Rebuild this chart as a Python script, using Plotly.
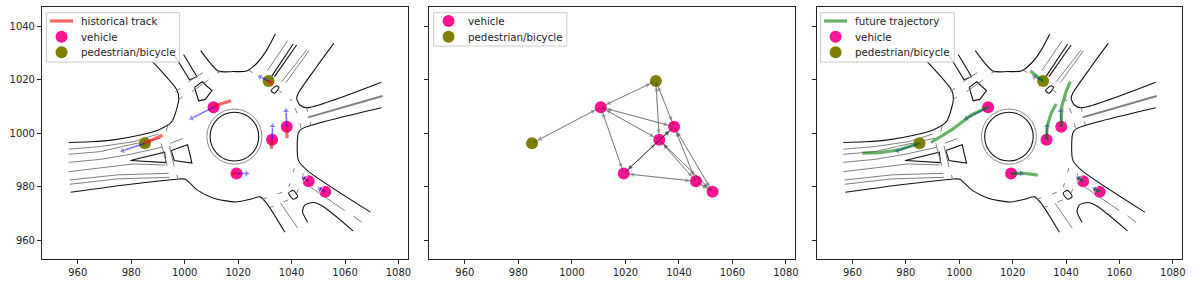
import plotly.graph_objects as go

# ---- agents -----
vehicle_x = [1010.8, 1032.7, 1038.2, 1019.4, 1046.4, 1052.6]
vehicle_y = [1009.7, 997.5, 1002.4, 984.9, 982.0, 978.1]
ped_x = [985.1, 1031.4]
ped_y = [996.2, 1019.5]

# ---- tracks: one list of x and y per agent -----
hist_x = [[1010.8, 1013.3, 1017.4], [1032.7, 1032.4], [1038.2, 1038.3], [1019.4, 1017.6],
          [1046.4, 1044.6], [1052.6, 1050.9], [985.1, 991.7], [1031.4, 1033.0]]
hist_y = [[1009.7, 1010.9, 1012.1], [997.5, 994.1], [1002.4, 998.1], [984.9, 984.9],
          [982.0, 983.2], [978.1, 979.1], [996.2, 999.2], [1019.5, 1018.5]]
vel_x = [[1010.8, 1002.6], [1032.7, 1032.9], [1038.2, 1037.9], [1019.4, 1023.2],
         [1046.4, 1044.6], [1052.6, 1050.6], [985.1, 976.8], [1031.4, 1028.2]]
vel_y = [[1009.7, 1005.5], [997.5, 1002.7], [1002.4, 1008.4], [984.9, 984.9],
         [982.0, 983.2], [978.1, 979.2], [996.2, 993.4], [1019.5, 1021.1]]
fut_x = [[1010.8, 1004.6, 997.1, 989.4], [1032.7, 1032.9, 1034.4, 1036.3],
         [1038.2, 1038.4, 1040.0, 1041.6], [1019.5, 1023.2, 1029.4],
         [1046.4, 1044.4], [1052.6, 1050.9],
         [985.1, 977.2, 970.3, 963.7], [1031.4, 1026.6]]
fut_y = [[1009.7, 1006.8, 1001.2, 996.5], [997.5, 1002.4, 1007.4, 1010.9],
         [1002.4, 1009.9, 1015.5, 1019.2], [984.9, 985.1, 984.3],
         [982.0, 983.5], [978.1, 979.1],
         [996.2, 993.7, 992.7, 992.5], [1019.5, 1023.2]]

# ---- interaction graph: pairs of agent names -----
graph_nodes = {"v1": (1010.8, 1009.7), "v2": (1032.7, 997.5), "v3": (1038.2, 1002.4),
               "v4": (1019.4, 984.9), "v5": (1046.4, 982.0), "v6": (1052.6, 978.1),
               "p1": (985.1, 996.2), "p2": (1031.4, 1019.5)}
graph_edges = [("p1", "v1"), ("p2", "v1"), ("p2", "v2"), ("p2", "v3"), ("v1", "v2"), ("v1", "v3"),
               ("v1", "v4"), ("v2", "v3"), ("v2", "v4"), ("v3", "v4"), ("v2", "v5"), ("v2", "v6"),
               ("v3", "v5"), ("v3", "v6"), ("v4", "v5"), ("v5", "v6")]

# ---- map: curved black kerbs and rounded islands -----
kerb_curves = [
    [(987.8, 1026.9), (997.1, 1016.1), (997.8, 1013.0), (997.1, 1009.3), (995.2, 1004.3), (990.2, 1001.2),
     (983.4, 999.3), (973.4, 997.5), (964.7, 996.8), (956.6, 996.5)],
    [(957.3, 977.9), (979.7, 980.9), (997.1, 982.8), (1000.2, 982.8), (1004.6, 978.8), (1010.8, 975.7),
     (1018.9, 974.3), (1024.5, 975.3), (1028.2, 976.2), (1030.7, 973.8), (1037.5, 963.0)],
    [(1069.5, 970.5), (1045.6, 986.3), (1042.5, 990.0), (1042.5, 999.9), (1043.8, 1001.6), (1073.6, 1009.5)],
    [(1055.8, 1033.5), (1049.4, 1024.8), (1042.5, 1014.9), (1041.9, 1013.0), (1043.1, 1010.5), (1045.9, 1009.5),
     (1073.6, 1019.0)],
    [(1006.0, 1030.8), (1012.6, 1023.2), (1018.2, 1023.0), (1023.2, 1023.2), (1027.0, 1026.1), (1030.7, 1031.0),
     (1033.9, 1037.0)],
    [(1046.0, 966.7), (1044.1, 970.7), (1045.0, 973.2), (1048.1, 974.1), (1051.8, 972.6), (1063.0, 963.5)],
    [(1032.3, 1015.9), (1034.4, 1017.7), (1035.3, 1017.1), (1033.6, 1014.9), (1032.3, 1015.9)],
    [(1038.9, 977.6), (1040.6, 978.6), (1042.3, 976.3), (1040.6, 975.3), (1038.9, 977.6)],
]
# ---- map: straight black outlines and islands -----
kerb_straight = [
    [(1003.7, 1017.1), (1006.5, 1019.2), (1010.2, 1015.9), (1007.7, 1012.6), (1005.2, 1012.1), (1003.7, 1017.1)],
    [(996.1, 1029.2), (1001.8, 1019.9), (1004.6, 1021.1), (999.6, 1029.4)],
    [(979.7, 989.8), (992.5, 992.9), (993.0, 989.0), (979.7, 989.8)],
    [(995.0, 993.5), (1001.1, 995.7), (1002.7, 988.8), (996.1, 989.8), (995.0, 993.5)],
    [(1032.6, 1021.3), (1040.6, 1033.3)],
    [(1033.6, 1021.1), (1041.9, 1032.9)],
]
# ---- map: gray lane lines -----
lane_lines = [
    [(956.6, 994.0), (968.5, 995.0), (980.9, 996.8), (990.2, 999.7)],
    [(956.6, 992.1), (968.5, 993.1), (976.6, 995.0), (985.3, 996.8), (990.9, 998.1)],
    [(956.6, 989.1), (968.5, 990.2), (979.7, 992.1), (991.5, 994.7)],
    [(956.6, 985.6), (968.5, 987.1), (980.9, 988.5), (992.7, 988.1)],
    [(957.0, 982.5), (974.7, 984.4), (994.0, 985.0)],
    [(957.0, 980.9), (974.7, 982.9), (994.3, 983.5)],
    [(996.5, 1015.5), (998.3, 1016.7)], [(997.7, 1012.4), (999.2, 1013.6)],
    [(1001.4, 1019.2), (1006.8, 1022.6)], [(1002.7, 1015.5), (1008.9, 1019.9)],
    [(1012.0, 1022.3), (1013.3, 1023.0)], [(1023.8, 1023.6), (1025.5, 1022.6)],
    [(1035.0, 1016.1), (1036.3, 1015.1)], [(1039.4, 1012.6), (1040.3, 1012.1)],
    [(1041.3, 1009.3), (1042.1, 1007.4)], [(1043.1, 1003.7), (1043.5, 1001.8)],
    [(1045.6, 1009.5), (1046.0, 1008.0)], [(1046.9, 1004.3), (1047.4, 1002.8)],
    [(1041.0, 986.9), (1040.6, 985.3)], [(1039.4, 981.3), (1039.0, 979.8)],
    [(1036.5, 977.9), (1034.8, 977.3)], [(1030.7, 975.9), (1029.2, 975.3)],
    [(1042.5, 979.1), (1041.9, 977.6)], [(1038.8, 975.1), (1036.9, 974.3)],
    [(1033.2, 972.6), (1031.9, 972.3)], [(1035.9, 973.8), (1042.3, 964.5)],
    [(1044.4, 985.0), (1044.0, 982.5)], [(1044.0, 981.9), (1059.9, 971.1)],
    [(1063.0, 969.1), (1066.3, 966.7)], [(1030.9, 1023.3), (1038.5, 1034.5)],
    [(1036.3, 1019.2), (1045.6, 1031.0)], [(1037.9, 1018.9), (1046.5, 1030.8)],
    [(991.2, 996.2), (993.4, 987.8)], [(994.6, 996.2), (999.3, 998.0)],
    [(994.3, 995.2), (996.1, 987.5)], [(997.1, 984.4), (997.5, 982.5)],
    [(993.6, 1002.7), (993.1, 1000.6)],
]
wide_lane = [(1046.2, 1005.9), (1074.0, 1013.9)]
roundabout_center = (1018.6, 998.7)
roundabout_inner_r = 9.1
roundabout_outer_r = 10.3

x_ticks = [960, 980, 1000, 1020, 1040, 1060, 1080]
y_ticks = [960, 980, 1000, 1020, 1040]
x_range = [946.6, 1083.6]
y_range = [953.1, 1047.0]

W, H = 1196, 284
panels_px = [(42.1, 409.1), (430.1, 797.5), (818.8, 1185.4)]
FONT = "DejaVu Sans"
PINK, OLIVE = "#ff1493", "#808000"
RED = "rgba(255,0,0,0.6)"
BLUE = "rgba(0,0,255,0.55)"
GREEN = "rgba(0,128,0,0.6)"

fig = go.Figure()


def add(tr, i):
    tr.xaxis = "x" if i == 0 else f"x{i + 1}"
    tr.yaxis = "y" if i == 0 else f"y{i + 1}"
    tr.showlegend = False
    fig.add_trace(tr)


def add_map(i):
    for pts in kerb_curves:
        add(go.Scatter(x=[p[0] for p in pts], y=[p[1] for p in pts], mode="lines",
                       hoverinfo="skip", line=dict(color="#111111", width=1.1, shape="spline", smoothing=0.7)), i)
    for pts in kerb_straight:
        add(go.Scatter(x=[p[0] for p in pts], y=[p[1] for p in pts], mode="lines",
                       hoverinfo="skip", line=dict(color="#111111", width=1.1)), i)
    for pts in lane_lines:
        add(go.Scatter(x=[p[0] for p in pts], y=[p[1] for p in pts], mode="lines",
                       hoverinfo="skip", line=dict(color="#808080", width=1)), i)
    add(go.Scatter(x=[p[0] for p in wide_lane], y=[p[1] for p in wide_lane], mode="lines",
                   hoverinfo="skip", line=dict(color="#808080", width=2)), i)
    xa = "x" if i == 0 else f"x{i + 1}"
    ya = "y" if i == 0 else f"y{i + 1}"
    cx, cy = roundabout_center
    for r, c in ((roundabout_outer_r, "#808080"), (roundabout_inner_r, "#111111")):
        fig.add_shape(type="circle", xref=xa, yref=ya, x0=cx - r, x1=cx + r, y0=cy - r, y1=cy + r,
                      line=dict(color=c, width=1.1 if c != "#808080" else 0.9), layer="below")


def add_nodes(i):
    add(go.Scatter(x=vehicle_x, y=vehicle_y, mode="markers", name="vehicle",
                   marker=dict(color=PINK, size=12)), i)
    add(go.Scatter(x=ped_x, y=ped_y, mode="markers", name="pedestrian/bicycle",
                   marker=dict(color=OLIVE, size=12)), i)


def add_arrows(i):
    for xs, ys in zip(vel_x, vel_y):
        add(go.Scatter(x=xs, y=ys, mode="lines+markers", hoverinfo="skip",
                       line=dict(color=BLUE, width=1.6),
                       marker=dict(color=BLUE, symbol="triangle-up", angleref="previous", size=[0, 7])), i)


def add_tracks(xs_all, ys_all, color, name, i):
    for xs, ys in zip(xs_all, ys_all):
        add(go.Scatter(x=xs, y=ys, mode="lines", name=name, line=dict(color=color, width=3.2)), i)


def legend_box(left, right, bottom, rows):
    """Hand-drawn legend: plotly's own legend cannot go below a 19 px row."""
    px, py = (lambda v: v / W), (lambda v: 1 - v / H)
    fig.add_shape(type="rect", xref="paper", yref="paper", x0=px(left), x1=px(right), y0=py(bottom), y1=py(12.7),
                  fillcolor="rgba(255,255,255,0.8)", line=dict(color="#cccccc", width=1), layer="above")
    for k, (label, kind, color) in enumerate(rows):
        yc = 21 + k * 15.65
        if kind == "line":
            fig.add_shape(type="line", xref="paper", yref="paper", x0=px(left + 3.3), x1=px(left + 26.6),
                          y0=py(yc), y1=py(yc), line=dict(color=color, width=3.2), layer="above")
        else:
            fig.add_shape(type="circle", xref="paper", yref="paper", x0=px(left + 9), x1=px(left + 21),
                          y0=py(yc + 6), y1=py(yc - 6), fillcolor=color, line=dict(width=0), layer="above")
        fig.add_annotation(xref="paper", yref="paper", x=px(left + 32), y=py(yc), xanchor="left", yanchor="middle",
                           text=label, showarrow=False, font=dict(size=10.3, color="#222222"))


# Panel 1
add_map(0)
add_nodes(0)
add_tracks(hist_x, hist_y, RED, "historical track", 0)
add_arrows(0)
legend_box(46.7, 180.0, 62.0, [("historical track", "line", RED), ("vehicle", "dot", PINK),
                               ("pedestrian/bicycle", "dot", OLIVE)])

# Panel 2
add_nodes(1)
for a, b in graph_edges:
    for s, t in ((a, b), (b, a)):
        fig.add_annotation(x=graph_nodes[t][0], y=graph_nodes[t][1], ax=graph_nodes[s][0], ay=graph_nodes[s][1],
                           xref="x2", yref="y2", axref="x2", ayref="y2", text="", showarrow=True,
                           arrowhead=2, arrowsize=0.9, arrowwidth=1, standoff=6,
                           arrowcolor="rgba(0,0,0,0.3)")
legend_box(434.7, 568.3, 46.0, [("vehicle", "dot", PINK), ("pedestrian/bicycle", "dot", OLIVE)])

# Panel 3
add_map(2)
add_nodes(2)
add_arrows(2)
add_tracks(fut_x, fut_y, GREEN, "future trajectory", 2)
legend_box(822.7, 956.7, 62.0, [("future trajectory", "line", GREEN), ("vehicle", "dot", PINK),
                                ("pedestrian/bicycle", "dot", OLIVE)])

layout = dict(width=W, height=H, margin=dict(l=0, r=0, t=0, b=0), paper_bgcolor="white",
              plot_bgcolor="white", font=dict(family=FONT, size=10, color="#222222"),
              hovermode=False, showlegend=False)
for i, (l, r) in enumerate(panels_px):
    sx = "" if i == 0 else str(i + 1)
    layout[f"xaxis{sx}"] = dict(domain=[l / W, r / W], range=x_range, tickvals=x_ticks, ticks="outside", ticklen=4,
                                tickwidth=1, tickcolor="#222", showline=True, mirror=True, linecolor="#222",
                                linewidth=1, showgrid=False, zeroline=False, tickfont=dict(size=10),
                                anchor=f"y{sx}")
    layout[f"yaxis{sx}"] = dict(domain=[1 - 258.7 / H, 1 - 7.3 / H], range=y_range, tickvals=y_ticks, ticks="outside",
                                ticklen=4, tickwidth=1, tickcolor="#222", showline=True, mirror=True,
                                linecolor="#222", linewidth=1, showgrid=False, zeroline=False,
                                showticklabels=i == 0, tickfont=dict(size=10), anchor=f"x{sx}")
fig.update_layout(**layout)
fig.write_html("out.html", config=dict(displayModeBar=False),
               post_script="document.body.style.margin='0';")
